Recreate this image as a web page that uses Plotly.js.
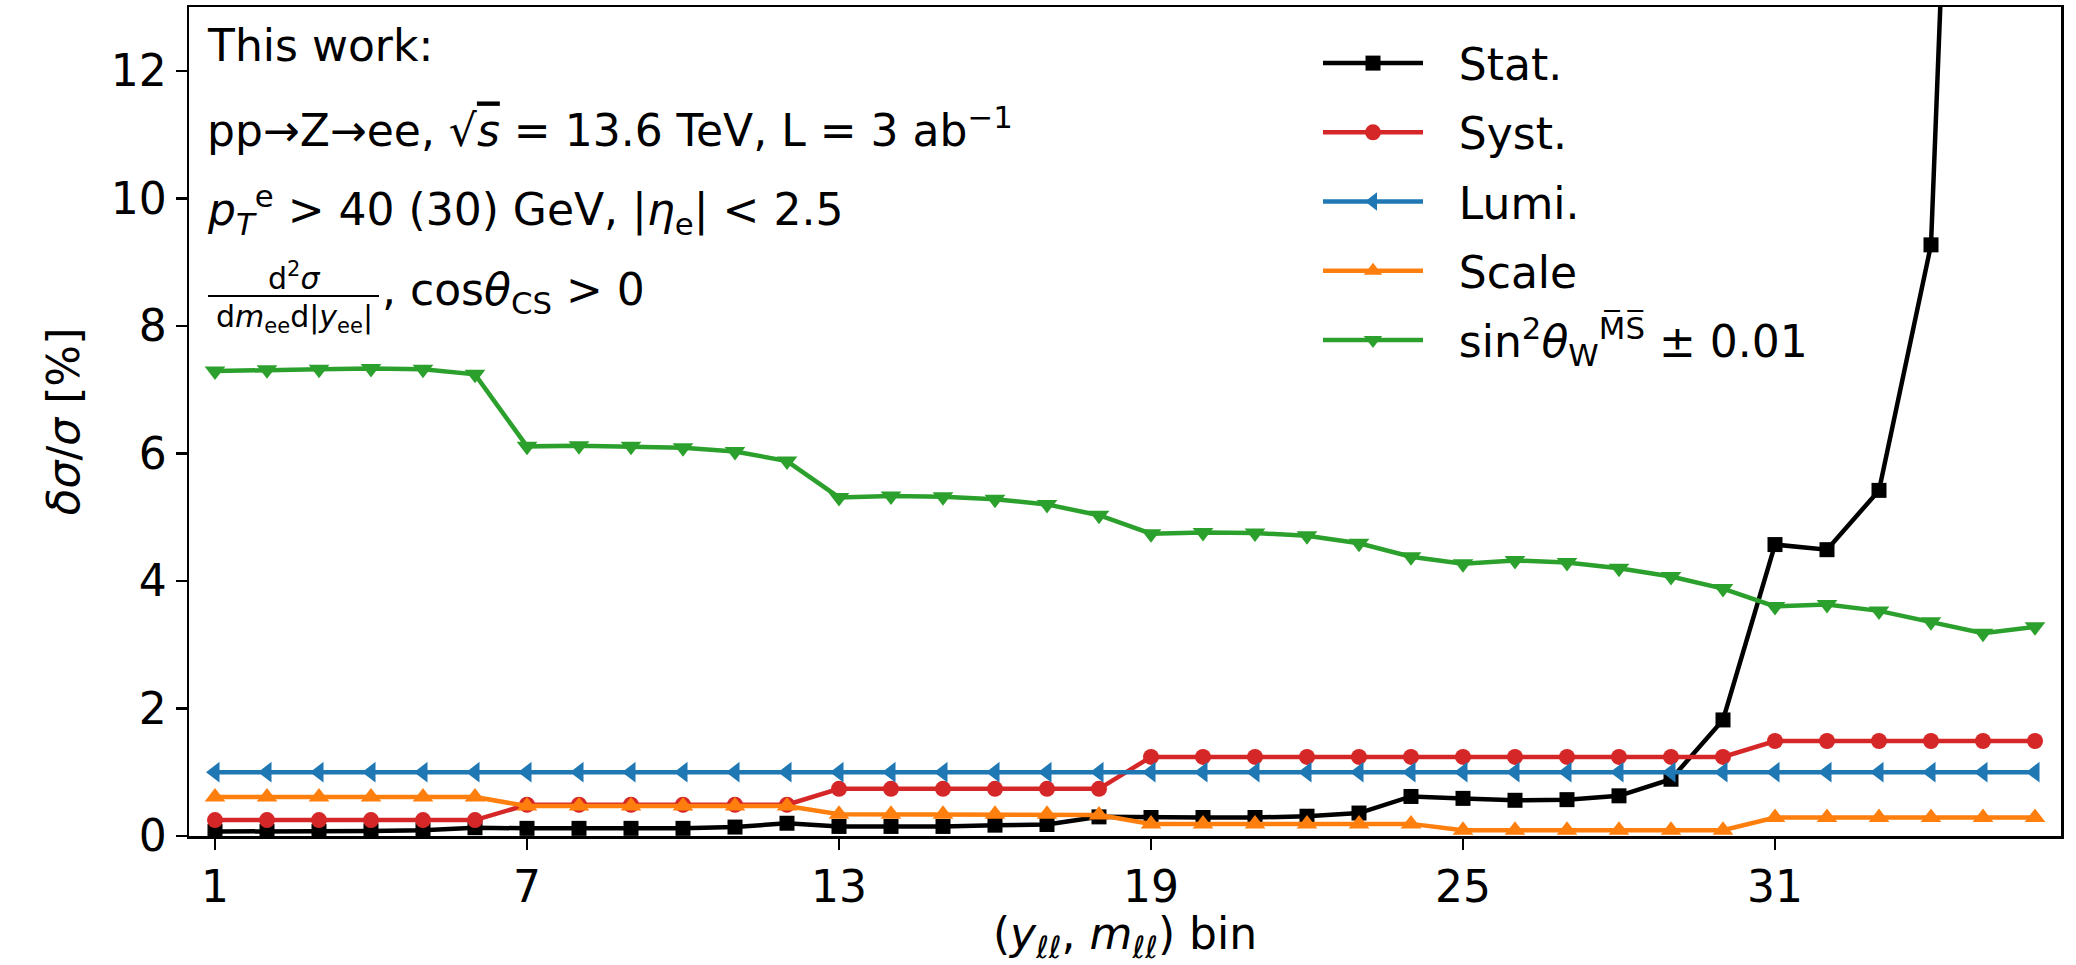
<!DOCTYPE html>
<html>
<head>
<meta charset="utf-8">
<script src="https://cdn.plot.ly/plotly-3.0.1.min.js"></script>
<style>html,body{margin:0;padding:0;background:#fff;}</style>
</head>
<body>
<div id="chart" style="width:2076px;height:965px;"></div>
<script>
// Bins 1..36
const bins = Array.from({length: 36}, (_, i) => i + 1);

const statVals = [0.07,0.07,0.07,0.08,0.09,0.13,0.12,0.12,0.12,0.12,0.14,0.20,
                  0.15,0.15,0.15,0.17,0.18,0.30,0.29,0.29,0.29,0.31,0.36,0.62,
                  0.59,0.56,0.57,0.63,0.89,1.82,4.57,4.49,5.42,9.27,30.2,45.0];
const systVals = [0.25,0.25,0.25,0.25,0.25,0.25,0.49,0.49,0.49,0.49,0.49,0.49,
                  0.74,0.74,0.74,0.74,0.74,0.74,1.24,1.24,1.24,1.24,1.24,1.24,
                  1.24,1.24,1.24,1.24,1.24,1.24,1.49,1.49,1.49,1.49,1.49,1.49];
const lumiVals = [1,1,1,1,1,1,1,1,1,1,1,1,1,1,1,1,1,1,
                  1,1,1,1,1,1,1,1,1,1,1,1,1,1,1,1,1,1];
const scaleVals = [0.61,0.61,0.61,0.61,0.61,0.61,0.47,0.47,0.47,0.47,0.47,0.47,
                   0.34,0.34,0.34,0.34,0.34,0.33,0.19,0.19,0.19,0.19,0.19,0.19,
                   0.09,0.09,0.09,0.09,0.09,0.09,0.29,0.29,0.29,0.29,0.29,0.29];
const sinVals = [7.29,7.31,7.32,7.33,7.32,7.24,6.11,6.12,6.11,6.09,6.03,5.88,
                 5.31,5.33,5.32,5.28,5.20,5.03,4.74,4.76,4.75,4.71,4.59,4.38,
                 4.27,4.32,4.29,4.20,4.07,3.88,3.60,3.63,3.53,3.36,3.18,3.28];

const GAP = "\u2002\u2009";
const seriesNames = ["Stat.", "Syst.", "Lumi.", "Scale",
  "sin<sup>2</sup><i>θ</i><sub>W</sub><sup>M\u0305S\u0305</sup> ± 0.01"];
const seriesColors = ["#000000", "#d62728", "#1f77b4", "#ff7f0e", "#2ca02c"];
const seriesSymbols = ["square", "circle", "triangle-left", "triangle-up", "triangle-down"];
const seriesMarkerSizes = [15, 16, 18, 18, 18];
const seriesData = [statVals, systVals, lumiVals, scaleVals, sinVals];

const xTicks = [1, 7, 13, 19, 25, 31];
const yTicks = [0, 2, 4, 6, 8, 10, 12];

const FONT = "DejaVu Sans, sans-serif";

const traces = seriesData.map((vals, i) => ({
  x: bins, y: vals, type: "scatter", mode: "lines+markers",
  name: GAP + seriesNames[i], legendgroup: "g" + i,
  line: {color: seriesColors[i], width: 4.5},
  marker: {symbol: seriesSymbols[i], color: seriesColors[i], size: seriesMarkerSizes[i], line: {width: 0}}
}));

const annFont = {family: FONT, size: 44, color: "#000"};
const fracFont = {family: FONT, size: 30, color: "#000"};
function py(p) { return (836 - p) / 829; }
function px(p) { return (p - 189) / 1872; }

const layout = {
  width: 2076, height: 965,
  margin: {l: 189, r: 15, t: 7, b: 129},
  paper_bgcolor: "#fff", plot_bgcolor: "#fff",
  font: {family: FONT, size: 44, color: "#000"},
  showlegend: true,
  legend: {
    x: px(1318), y: py(28), xanchor: "left", yanchor: "top",
    bgcolor: "rgba(0,0,0,0)", borderwidth: 0,
    font: {family: FONT, size: 44, color: "#000"},
    itemwidth: 100,
    tracegroupgap: 9
  },
  xaxis: {
    range: [0.5, 36.5], tickmode: "array", tickvals: xTicks,
    ticktext: xTicks.map(String),
    showline: true, linecolor: "#000", linewidth: 2.5, mirror: true,
    ticks: "outside", ticklen: 11, tickwidth: 2.5, tickcolor: "#000",
    showgrid: false, zeroline: false,
    tickfont: {family: FONT, size: 44, color: "#000"},
    title: {text: "(<i>y</i><sub>ℓℓ</sub>, <i>m</i><sub>ℓℓ</sub>) bin",
            font: {family: FONT, size: 44, color: "#000"}, standoff: 12}
  },
  yaxis: {
    range: [0, 13], tickmode: "array", tickvals: yTicks,
    ticktext: yTicks.map(String),
    showline: true, linecolor: "#000", linewidth: 2.5, mirror: true,
    ticks: "outside", ticklen: 11, tickwidth: 2.5, tickcolor: "#000",
    showgrid: false, zeroline: false,
    tickfont: {family: FONT, size: 44, color: "#000"},
    title: {text: "<i>δσ</i>/<i>σ</i> [%]",
            font: {family: FONT, size: 44, color: "#000"}, standoff: 18}
  },
  annotations: [
    {xref: "paper", yref: "paper", x: px(205), y: py(46), xanchor: "left", yanchor: "middle",
     showarrow: false, text: "This work:", font: annFont},
    {xref: "paper", yref: "paper", x: px(205), y: py(128), xanchor: "left", yanchor: "middle",
     showarrow: false, text: "pp→Z→ee, √<span style='text-decoration:overline'><i>s</i></span> = 13.6 TeV, L = 3 ab<sup>−1</sup>", font: annFont},
    {xref: "paper", yref: "paper", x: px(205), y: py(210), xanchor: "left", yanchor: "middle",
     showarrow: false, text: "<i>p</i><sub><i>T</i></sub><sup>e</sup> &gt; 40 (30) GeV, |<i>η</i><sub>e</sub>| &lt; 2.5", font: annFont},
    {xref: "paper", yref: "paper", x: px(294), y: py(276), xanchor: "center", yanchor: "middle",
     showarrow: false, text: "d<sup>2</sup><i>σ</i>", font: fracFont},
    {xref: "paper", yref: "paper", x: px(294), y: py(318), xanchor: "center", yanchor: "middle",
     showarrow: false, text: "d<i>m</i><sub>ee</sub>d|<i>y</i><sub>ee</sub>|", font: fracFont},
    {xref: "paper", yref: "paper", x: px(380), y: py(292), xanchor: "left", yanchor: "middle",
     showarrow: false, text: ", cos<i>θ</i><sub>CS</sub> &gt; 0", font: annFont}
  ],
  shapes: [
    {type: "line", xref: "paper", yref: "paper", x0: px(208), x1: px(379), y0: py(296), y1: py(296),
     line: {color: "#000", width: 2}}
  ]
};

Plotly.newPlot("chart", traces, layout, {displayModeBar: false, staticPlot: true});
</script>
</body>
</html>
